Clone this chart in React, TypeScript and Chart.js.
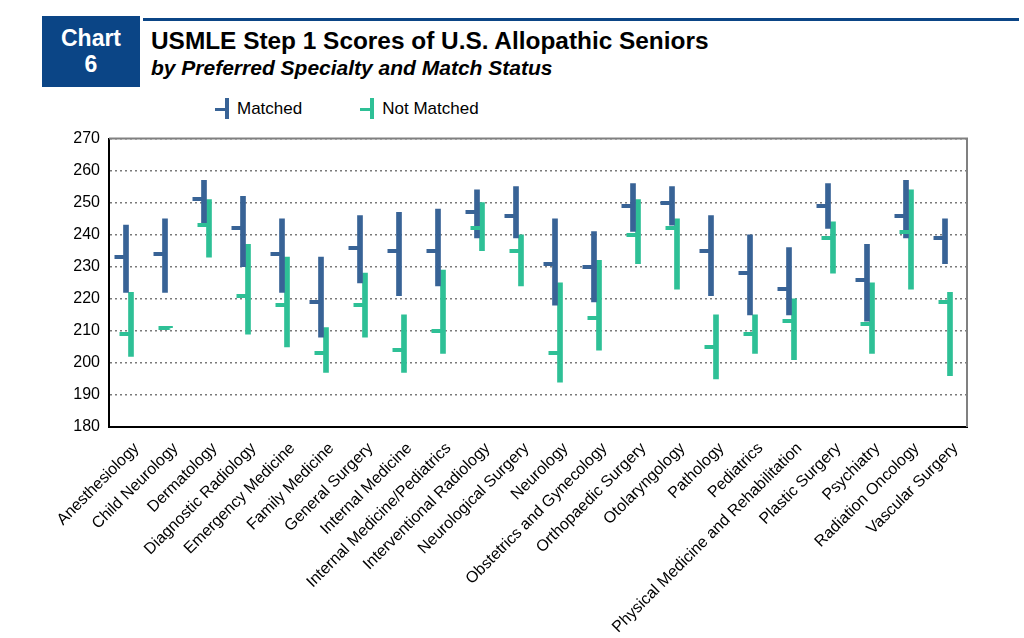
import React, { useEffect, useRef } from "react";
import { Chart, registerables } from "chart.js";

Chart.register(...registerables);

const categories = [
  "Anesthesiology",
  "Child Neurology",
  "Dermatology",
  "Diagnostic Radiology",
  "Emergency Medicine",
  "Family Medicine",
  "General Surgery",
  "Internal Medicine",
  "Internal Medicine/Pediatrics",
  "Interventional Radiology",
  "Neurological Surgery",
  "Neurology",
  "Obstetrics and Gynecology",
  "Orthopaedic Surgery",
  "Otolaryngology",
  "Pathology",
  "Pediatrics",
  "Physical Medicine and Rehabilitation",
  "Plastic Surgery",
  "Psychiatry",
  "Radiation Oncology",
  "Vascular Surgery",
];

const matchedMax = [243, 245, 257, 252, 245, 233, 246, 247, 248, 254, 255, 245, 241, 256, 255, 246, 240, 236, 256, 237, 257, 245];
const matchedMin = [222, 222, 243, 230, 222, 208, 225, 221, 224, 239, 239, 218, 219, 241, 243, 221, 215, 215, 242, 213, 239, 231];
const matchedMean = [233, 234, 251, 242, 234, 219, 236, 235, 235, 247, 246, 231, 230, 249, 250, 235, 228, 223, 249, 226, 246, 239];

const notMatchedMax = [222, 211.4, 251, 237, 233, 211, 228, 215, 229, 250, 240, 225, 232, 251, 245, 215, 215, 220, 244, 225, 254, 222];
const notMatchedMin = [202, 211, 233, 209, 205, 197, 208, 197, 203, 235, 224, 194, 204, 231, 223, 195, 203, 201, 228, 203, 223, 196];
const notMatchedMean = [209, 211, 243, 221, 218, 203, 218, 204, 210, 242, 235, 203, 214, 240, 242, 205, 209, 213, 239, 212, 241, 219];

const yTicks = [180, 190, 200, 210, 220, 230, 240, 250, 260, 270];

const seriesNames = ["Matched", "Not Matched"];
const seriesColors = ["#386396", "#2EC096"];

const FONT = "'Liberation Sans', Arial, Helvetica, sans-serif";

function makeTick(color: string, left: number, right: number) {
  const c = document.createElement("canvas");
  c.width = 32;
  c.height = 4;
  const ctx = c.getContext("2d")!;
  ctx.fillStyle = color;
  ctx.fillRect(16 + left, 0, right - left, 4);
  return c;
}

const framePlugin = {
  id: "frame",
  afterDatasetsDraw(chart: any) {
    const { ctx, chartArea: a } = chart;
    ctx.save();
    ctx.strokeStyle = "#808080";
    ctx.lineWidth = 2;
    ctx.beginPath();
    ctx.moveTo(a.left, a.top);
    ctx.lineTo(a.right, a.top);
    ctx.lineTo(a.right, a.bottom);
    ctx.stroke();
    ctx.restore();
  },
};

function ChartCanvas() {
  const ref = useRef<HTMLCanvasElement | null>(null);
  useEffect(() => {
    if (!ref.current) return;
    const blueTick = makeTick(seriesColors[0], -14, -2);
    const greenTick = makeTick(seriesColors[1], -9, 2.5);
    const chart = new Chart(ref.current, {
      type: "bar",
      data: {
        labels: categories,
        datasets: [
          {
            type: "line",
            label: seriesNames[0] + " mean",
            data: matchedMean,
            showLine: false,
            pointStyle: blueTick as any,
            pointRadius: 6,
            order: 0,
          } as any,
          {
            type: "line",
            label: seriesNames[1] + " mean",
            data: notMatchedMean,
            showLine: false,
            pointStyle: greenTick as any,
            pointRadius: 6,
            order: 0,
          } as any,
          {
            type: "bar",
            label: seriesNames[0],
            data: matchedMin.map((v, i) => [v, matchedMax[i]]),
            backgroundColor: seriesColors[0],
            borderWidth: 0,
            barThickness: 5,
            order: 1,
          } as any,
          {
            type: "bar",
            label: seriesNames[1],
            data: notMatchedMin.map((v, i) => [v, notMatchedMax[i]]),
            backgroundColor: seriesColors[1],
            borderWidth: 0,
            barThickness: 5,
            order: 1,
          } as any,
        ],
      },
      options: {
        animation: false,
        responsive: true,
        maintainAspectRatio: false,
        events: [],
        layout: { padding: { top: 18, right: 57, left: 0, bottom: 0 } },
        plugins: {
          legend: { display: false },
          tooltip: { enabled: false },
          title: { display: false },
        },
        scales: {
          x: {
            offset: true,
            grid: { display: false, drawTicks: false },
            border: { display: true, color: "#000000", width: 2 },
            ticks: {
              autoSkip: false,
              minRotation: 45,
              maxRotation: 45,
              color: "#000000",
              padding: 12,
              labelOffset: 8,
              font: { family: FONT, size: 16 },
            },
            afterFit: (s: any) => {
              s.height = 211;
            },
          },
          y: {
            min: 180,
            max: 270,
            afterBuildTicks: (s: any) => {
              s.ticks = yTicks.map((v) => ({ value: v }));
            },
            grid: { color: "#7a7a7a", lineWidth: 1.5, drawTicks: false },
            border: { display: true, color: "#000000", width: 2, dash: [2, 3] },
            ticks: {
              color: "#000000",
              padding: 9,
              font: { family: FONT, size: 16 },
            },
            afterFit: (s: any) => {
              s.width = 109;
            },
          },
        },
      },
      plugins: [framePlugin],
    });
    return () => chart.destroy();
  }, []);
  return <canvas ref={ref} />;
}

function LegendIcon({ color }: { color: string }) {
  return (
    <span style={{ position: "relative", display: "inline-block", width: 14, height: 21, marginRight: 8 }}>
      <span style={{ position: "absolute", left: 10, top: 0, width: 3.5, height: 21, background: color }} />
      <span style={{ position: "absolute", left: 0, top: 9.5, width: 11, height: 3, background: color }} />
    </span>
  );
}

export default function App() {
  return (
    <div
      style={{
        position: "fixed",
        left: 0,
        top: 0,
        width: 1024,
        height: 638,
        background: "#ffffff",
        fontFamily: FONT,
        overflow: "hidden",
      }}
    >
      <div
        style={{
          position: "absolute",
          left: 42,
          top: 16,
          width: 98,
          height: 71,
          background: "#0B4586",
          color: "#ffffff",
          fontWeight: "bold",
          fontSize: 23,
          lineHeight: "26px",
          textAlign: "center",
          paddingTop: 9,
          boxSizing: "border-box",
        }}
      >
        Chart
        <br />6
      </div>
      <div style={{ position: "absolute", left: 143, top: 18, width: 876, height: 3, background: "#0B4586" }} />
      <div
        style={{
          position: "absolute",
          left: 151,
          top: 27,
          fontSize: 24.4,
          fontWeight: "bold",
          color: "#000000",
          whiteSpace: "nowrap",
          lineHeight: "28px",
        }}
      >
        USMLE Step 1 Scores of U.S. Allopathic Seniors
      </div>
      <div
        style={{
          position: "absolute",
          left: 151,
          top: 56,
          fontSize: 21,
          fontWeight: "bold",
          fontStyle: "italic",
          color: "#000000",
          whiteSpace: "nowrap",
          lineHeight: "24px",
        }}
      >
        by Preferred Specialty and Match Status
      </div>
      <div
        style={{
          position: "absolute",
          left: 215,
          top: 98,
          display: "flex",
          alignItems: "center",
          fontSize: 17,
          color: "#000000",
          whiteSpace: "nowrap",
        }}
      >
        {seriesNames.map((n, i) => (
          <span key={n} style={{ display: "inline-flex", alignItems: "center", marginRight: 58 }}>
            <LegendIcon color={seriesColors[i]} />
            {n}
          </span>
        ))}
      </div>
      <div style={{ position: "absolute", left: 0, top: 120, width: 1024, height: 518 }}>
        <ChartCanvas />
      </div>
    </div>
  );
}
